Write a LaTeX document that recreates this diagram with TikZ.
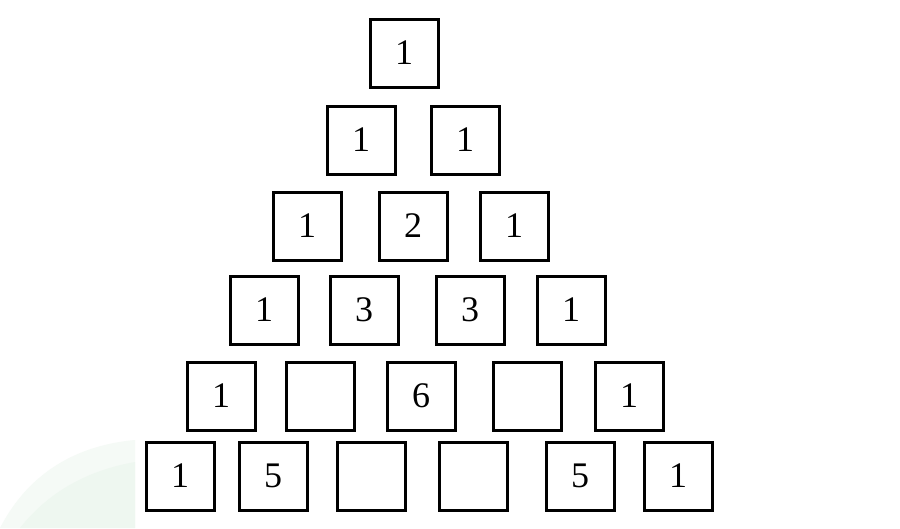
\documentclass[tikz,border=0pt]{standalone}
\usepackage{fontspec}
\setmainfont{Liberation Serif}
\definecolor{wmgreen}{HTML}{EEF7F0}
\definecolor{wmgreen2}{HTML}{F5FAF6}
\begin{document}
\begin{tikzpicture}[x=1pt,y=-1pt,
  cell/.style={draw=black, line width=3pt, minimum width=68pt, minimum height=68pt,
    inner sep=0pt, font=\fontsize{36}{40}\selectfont}]
\useasboundingbox (0,0) rectangle (900,528);
\fill[white] (0,0) rectangle (900,528);
% faint watermark swoosh at lower left
\fill[wmgreen2] (0,528) .. controls (30,470) and (80,445) .. (135,440) -- (135,528) -- cycle;
\fill[wmgreen] (20,528) .. controls (50,490) and (90,470) .. (135,462) -- (135,528) -- cycle;
% row 1
\node[cell] (r1a) at (404,53) {1};
% row 2
\node[cell] (r2a) at (361,140) {1};
\node[cell] (r2b) at (465,140) {1};
% row 3
\node[cell] (r3a) at (307,226) {1};
\node[cell] (r3b) at (413,226) {2};
\node[cell] (r3c) at (514,226) {1};
% row 4
\node[cell] (r4a) at (264,310) {1};
\node[cell] (r4b) at (364,310) {3};
\node[cell] (r4c) at (470,310) {3};
\node[cell] (r4d) at (571,310) {1};
% row 5
\node[cell] (r5a) at (221,396) {1};
\node[cell] (r5b) at (320,396) {};
\node[cell] (r5c) at (421,396) {6};
\node[cell] (r5d) at (527,396) {};
\node[cell] (r5e) at (629,396) {1};
% row 6
\node[cell] (r6a) at (180,476) {1};
\node[cell] (r6b) at (273,476) {5};
\node[cell] (r6c) at (371,476) {};
\node[cell] (r6d) at (473,476) {};
\node[cell] (r6e) at (580,476) {5};
\node[cell] (r6f) at (678,476) {1};
\end{tikzpicture}
\end{document}
